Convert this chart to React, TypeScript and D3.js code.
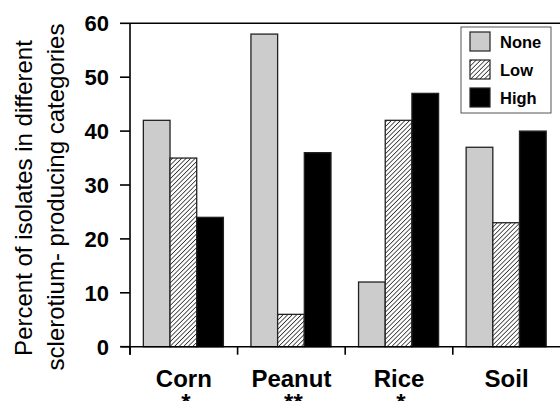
import React from 'react';
import * as d3 from 'd3';

const categories = ['Corn', 'Peanut', 'Rice', 'Soil'];
const significance = ['*', '**', '*', ''];
const seriesNames = ['None', 'Low', 'High'];
const noneValues = [42, 58, 12, 37];
const lowValues = [35, 6, 42, 23];
const highValues = [24, 36, 47, 40];
const yTicks = [0, 10, 20, 30, 40, 50, 60];

const width = 560;
const height = 401;
const font = '"Liberation Sans", Arial, Helvetica, sans-serif';

const fills: Record<string, string> = {
    None: '#cccccc',
    Low: 'url(#hatch)',
    High: '#000000'
};

const App = () => {
    const x = d3.scaleBand<string>().domain(categories).range([130, 560.4]);
    const bw = x.bandwidth();
    const inner = d3
        .scaleBand<string>()
        .domain(seriesNames)
        .range([bw * 0.124, bw * 0.124 + bw * 0.744]);
    const y = d3.scaleLinear().domain([0, 60]).range([346.7, 23.3]);

    const series = [
        { name: 'None', values: noneValues },
        { name: 'Low', values: lowValues },
        { name: 'High', values: highValues }
    ];

    const legendY = d3.scaleBand<string>().domain(seriesNames).range([28, 112]);

    return (
        <svg
            width={width}
            height={height}
            style={{ position: 'absolute', left: 0, top: 0, display: 'block', background: '#fff' }}
        >
            <defs>
                <pattern id="hatch" width="3.2" height="3.2" patternUnits="userSpaceOnUse" patternTransform="rotate(45)">
                    <rect width="3.2" height="3.2" fill="#fff" />
                    <line x1="0" y1="0" x2="0" y2="3.2" stroke="#000" strokeWidth="1.3" />
                </pattern>
            </defs>

            {/* bars */}
            {series.map((s) => (
                <g key={s.name}>
                    {s.values.map((v, i) => (
                        <rect
                            key={categories[i]}
                            x={(x(categories[i]) as number) + (inner(s.name) as number)}
                            y={y(v)}
                            width={inner.bandwidth()}
                            height={y(0) - y(v)}
                            fill={fills[s.name]}
                            stroke="#222"
                            strokeWidth={1.3}
                        />
                    ))}
                </g>
            ))}

            {/* frame */}
            <line x1={130} x2={560} y1={y(60)} y2={y(60)} stroke="#000" strokeWidth={1.6} />
            <line x1={130} x2={130} y1={y(60)} y2={y(0) + 8} stroke="#000" strokeWidth={1.6} />
            <line x1={121} x2={560} y1={y(0)} y2={y(0)} stroke="#000" strokeWidth={1.6} />

            {/* y axis */}
            {yTicks.map((t) => (
                <g key={t} transform={`translate(0,${y(t)})`}>
                    <line x1={120} x2={130} stroke="#000" strokeWidth={1.6} />
                    <text
                        x={109}
                        dy="0.36em"
                        textAnchor="end"
                        fontFamily={font}
                        fontWeight="bold"
                        fontSize={22}
                    >
                        {t}
                    </text>
                </g>
            ))}

            {/* x axis */}
            {categories.map((c, i) => (
                <g key={c}>
                    <line
                        x1={x(c) as number}
                        x2={x(c) as number}
                        y1={y(0)}
                        y2={y(0) + 8}
                        stroke="#000"
                        strokeWidth={1.6}
                    />
                    <text
                        x={(x(c) as number) + bw / 2}
                        y={387}
                        textAnchor="middle"
                        fontFamily={font}
                        fontWeight="bold"
                        fontSize={24}
                    >
                        {c}
                    </text>
                    <text
                        x={(x(c) as number) + bw / 2 + 2}
                        y={411}
                        textAnchor="middle"
                        fontFamily={font}
                        fontWeight="bold"
                        fontSize={24}
                    >
                        {significance[i]}
                    </text>
                </g>
            ))}

            {/* y title */}
            <text
                transform="translate(32,198) rotate(-90)"
                textAnchor="middle"
                fontFamily={font}
                fontSize={24}
            >
                Percent of isolates in different
            </text>
            <text
                transform="translate(64,197) rotate(-90)"
                textAnchor="middle"
                fontFamily={font}
                fontSize={24}
            >
                sclerotium- producing categories
            </text>

            {/* legend */}
            <rect x={461} y={27} width={90} height={86} fill="#fff" stroke="#555" strokeWidth={1} />
            {seriesNames.map((n) => (
                <g key={n} transform={`translate(0,${legendY(n) as number})`}>
                    <rect
                        x={470}
                        y={4}
                        width={20}
                        height={19}
                        fill={fills[n]}
                        stroke="#222"
                        strokeWidth={1.2}
                    />
                    <text x={500} y={20} fontFamily={font} fontWeight="bold" fontSize={16.5}>
                        {n}
                    </text>
                </g>
            ))}
        </svg>
    );
};

export default App;
